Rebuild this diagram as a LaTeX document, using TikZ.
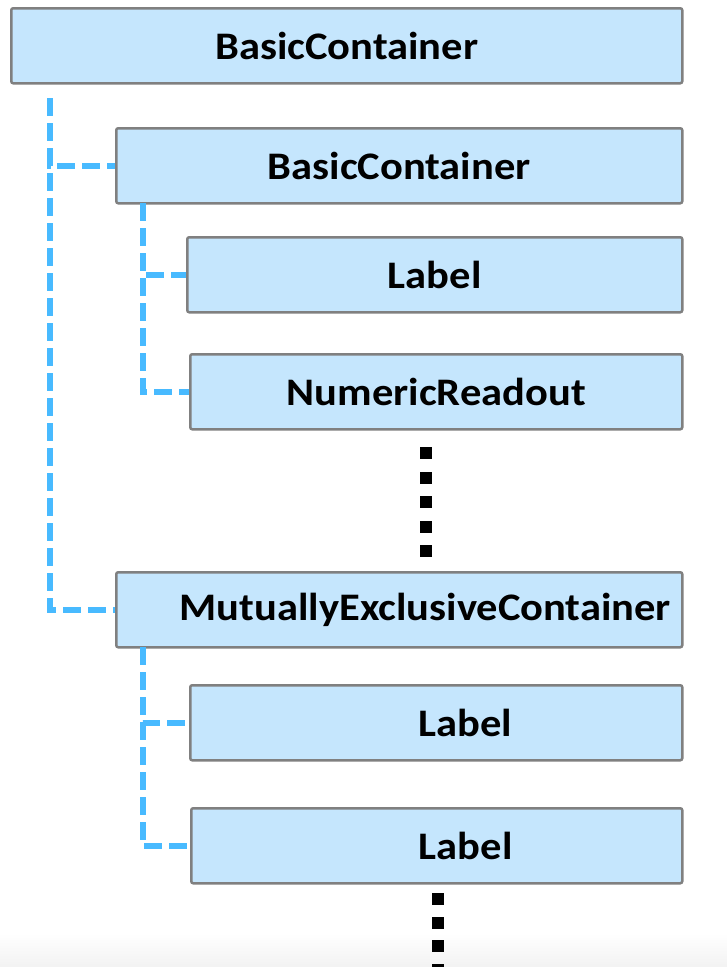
\documentclass[tikz,border=0pt]{standalone}
\usepackage{fontspec}
\setmainfont{Carlito}[FakeStretch=1.09]
\definecolor{boxfill}{RGB}{197,230,253}
\definecolor{boxline}{RGB}{128,128,128}
\definecolor{conn}{RGB}{72,186,255}
\tikzset{
  treebox/.style={draw=boxline, line width=2.5pt, fill=boxfill, rounded corners=2pt,
    anchor=north west, minimum height=75pt, inner sep=0pt, font=\fontsize{39}{44}\selectfont\bfseries},
  treelink/.style={draw=conn, line width=6pt, dash pattern=on 18pt off 7pt},
  dotmark/.style={fill=black}
}
\begin{document}
\begin{tikzpicture}[x=1pt,y=-1pt]
\useasboundingbox (0,0) rectangle (727,967);
\begin{scope}
\clip (0,0) rectangle (727,967);
\shade[top color=white, bottom color=black!5] (0,933) rectangle (727,967);
\node[treebox, minimum width=671pt] (b1) at (10,7) {BasicContainer};
\node[treebox, minimum width=566pt] (b2) at (115,127) {BasicContainer};
\node[treebox, minimum width=495pt] (l1) at (186,236) {Label};
\node[treebox, minimum width=492pt] (n1) at (189,353) {NumericReadout};
\node[treebox, minimum width=566pt] (m1) at (115,571) {\hspace*{52pt}MutuallyExclusiveContainer};
\node[treebox, minimum width=492pt] (l2) at (189,684) {\hspace*{58pt}Label};
\node[treebox, minimum width=491pt] (l3) at (190,807) {\hspace*{58pt}Label};
\coordinate (c1) at (50,98);
\coordinate (c2) at (143,203);
\coordinate (c3) at (143,647);
\draw[treelink] (c1) |- (b2.west);
\draw[treelink] (c1) |- (m1.west);
\draw[treelink] (c2) |- (l1.west);
\draw[treelink] (c2) |- (n1.west);
\draw[treelink] (c3) |- (l2.west);
\draw[treelink] (c3) |- (l3.west);
\foreach \yy in {453,477.5,502,526.5,551}
  \fill[dotmark] (420,\yy-6) rectangle (432,\yy+6);
\foreach \yy in {899,922.5,946,969.5}
  \fill[dotmark] (432,\yy-6) rectangle (444,\yy+6);
\end{scope}
\end{tikzpicture}
\end{document}
